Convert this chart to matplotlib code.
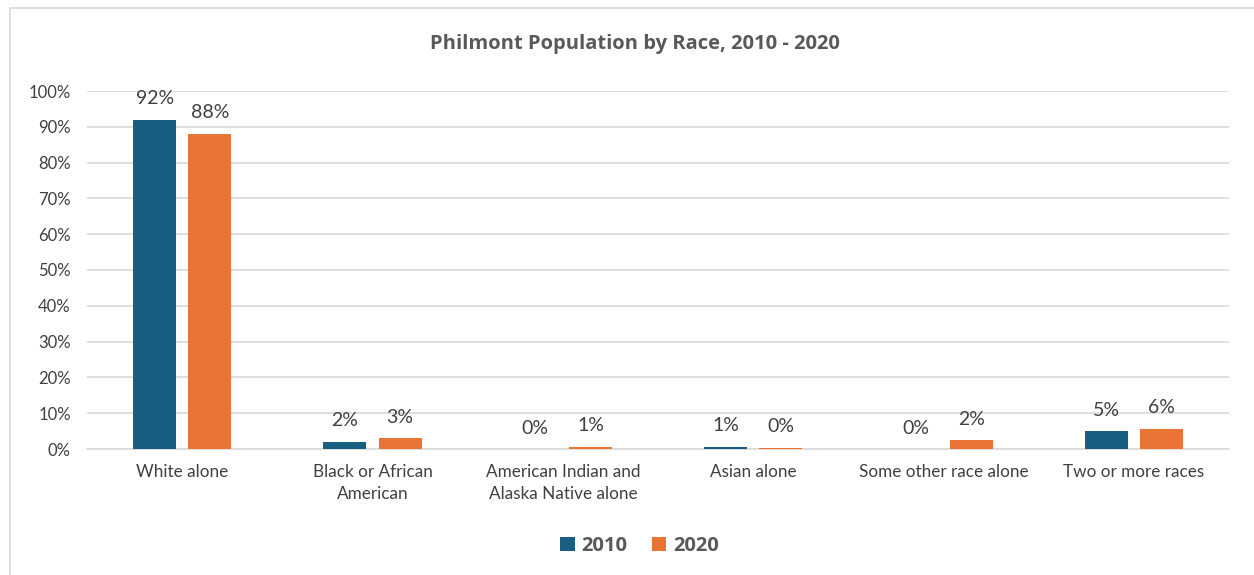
import matplotlib.pyplot as plt
import numpy as np
from matplotlib.patches import Rectangle

categories = ["White alone", "Black or African\nAmerican", "American Indian and\nAlaska Native alone",
              "Asian alone", "Some other race alone", "Two or more races"]
vals_2010 = [92, 2, 0, 0.6, 0, 5]
vals_2020 = [88, 3, 0.6, 0.4, 2.5, 5.7]
labels_2010 = ["92%", "2%", "0%", "1%", "0%", "5%"]
labels_2020 = ["88%", "3%", "1%", "0%", "2%", "6%"]
yticks = list(range(0, 101, 10))

c2010 = "#185E80"
c2020 = "#EA7434"
txt = "#404040"

plt.rcParams["font.family"] = ["Lato", "DejaVu Sans"]

fig = plt.figure(figsize=(12.54, 5.75), dpi=100)
fig.patches.append(Rectangle((10 / 1254, -0.01), 1.01, 1 - 8 / 575 + 0.01,
                             transform=fig.transFigure, fill=False,
                             edgecolor="#D9D9D9", linewidth=1.2))

ax = fig.add_axes([87 / 1254, 1 - 449 / 575, (1229 - 87) / 1254, (449 - 91) / 575])

x = np.arange(len(categories))
w = 0.226
off = 0.145
b1 = ax.bar(x - off, vals_2010, w, color=c2010, label="2010", zorder=3)
b2 = ax.bar(x + off, vals_2020, w, color=c2020, label="2020", zorder=3)

for bars, labs in ((b1, labels_2010), (b2, labels_2020)):
    for bar, lab in zip(bars, labs):
        ax.annotate(lab, (bar.get_x() + bar.get_width() / 2, bar.get_height()),
                    xytext=(0, 9), textcoords="offset points",
                    ha="center", va="bottom", fontsize=14, color=txt)

ax.set_xlim(-0.5, len(categories) - 0.5)
ax.set_ylim(0, 100)
ax.set_yticks(yticks)
ax.set_yticklabels([f"{t}%" for t in yticks])
ax.set_xticks(x)
ax.set_xticklabels(categories, linespacing=1.45)
ax.tick_params(axis="both", length=0, labelsize=12, colors=txt)
ax.tick_params(axis="x", labelsize=12.3, pad=11)
ax.tick_params(axis="y", pad=11.7)
ax.grid(axis="y", color="#D9D9D9", linewidth=1.2, zorder=0)
for s in ["top", "right", "left"]:
    ax.spines[s].set_visible(False)
ax.spines["bottom"].set_color("#D9D9D9")
ax.spines["bottom"].set_linewidth(1.2)

fig.text(0.506, 1 - 44 / 575, "Philmont Population by Race, 2010 - 2020",
         ha="center", va="center", fontsize=14.5, fontweight="bold", color="#595959",
         family=["Open Sans", "DejaVu Sans"])

fig.legend(handles=[b1, b2], loc="center", bbox_to_anchor=(0.51, 1 - 546 / 575),
           ncol=2, frameon=False, handlelength=0.7, handleheight=0.7,
           handletextpad=0.35, columnspacing=1.2,
           prop={"size": 14.5, "weight": "bold", "family": ["Open Sans", "DejaVu Sans"]},
           labelcolor="#595959")

fig.savefig("out.png", dpi=100)
